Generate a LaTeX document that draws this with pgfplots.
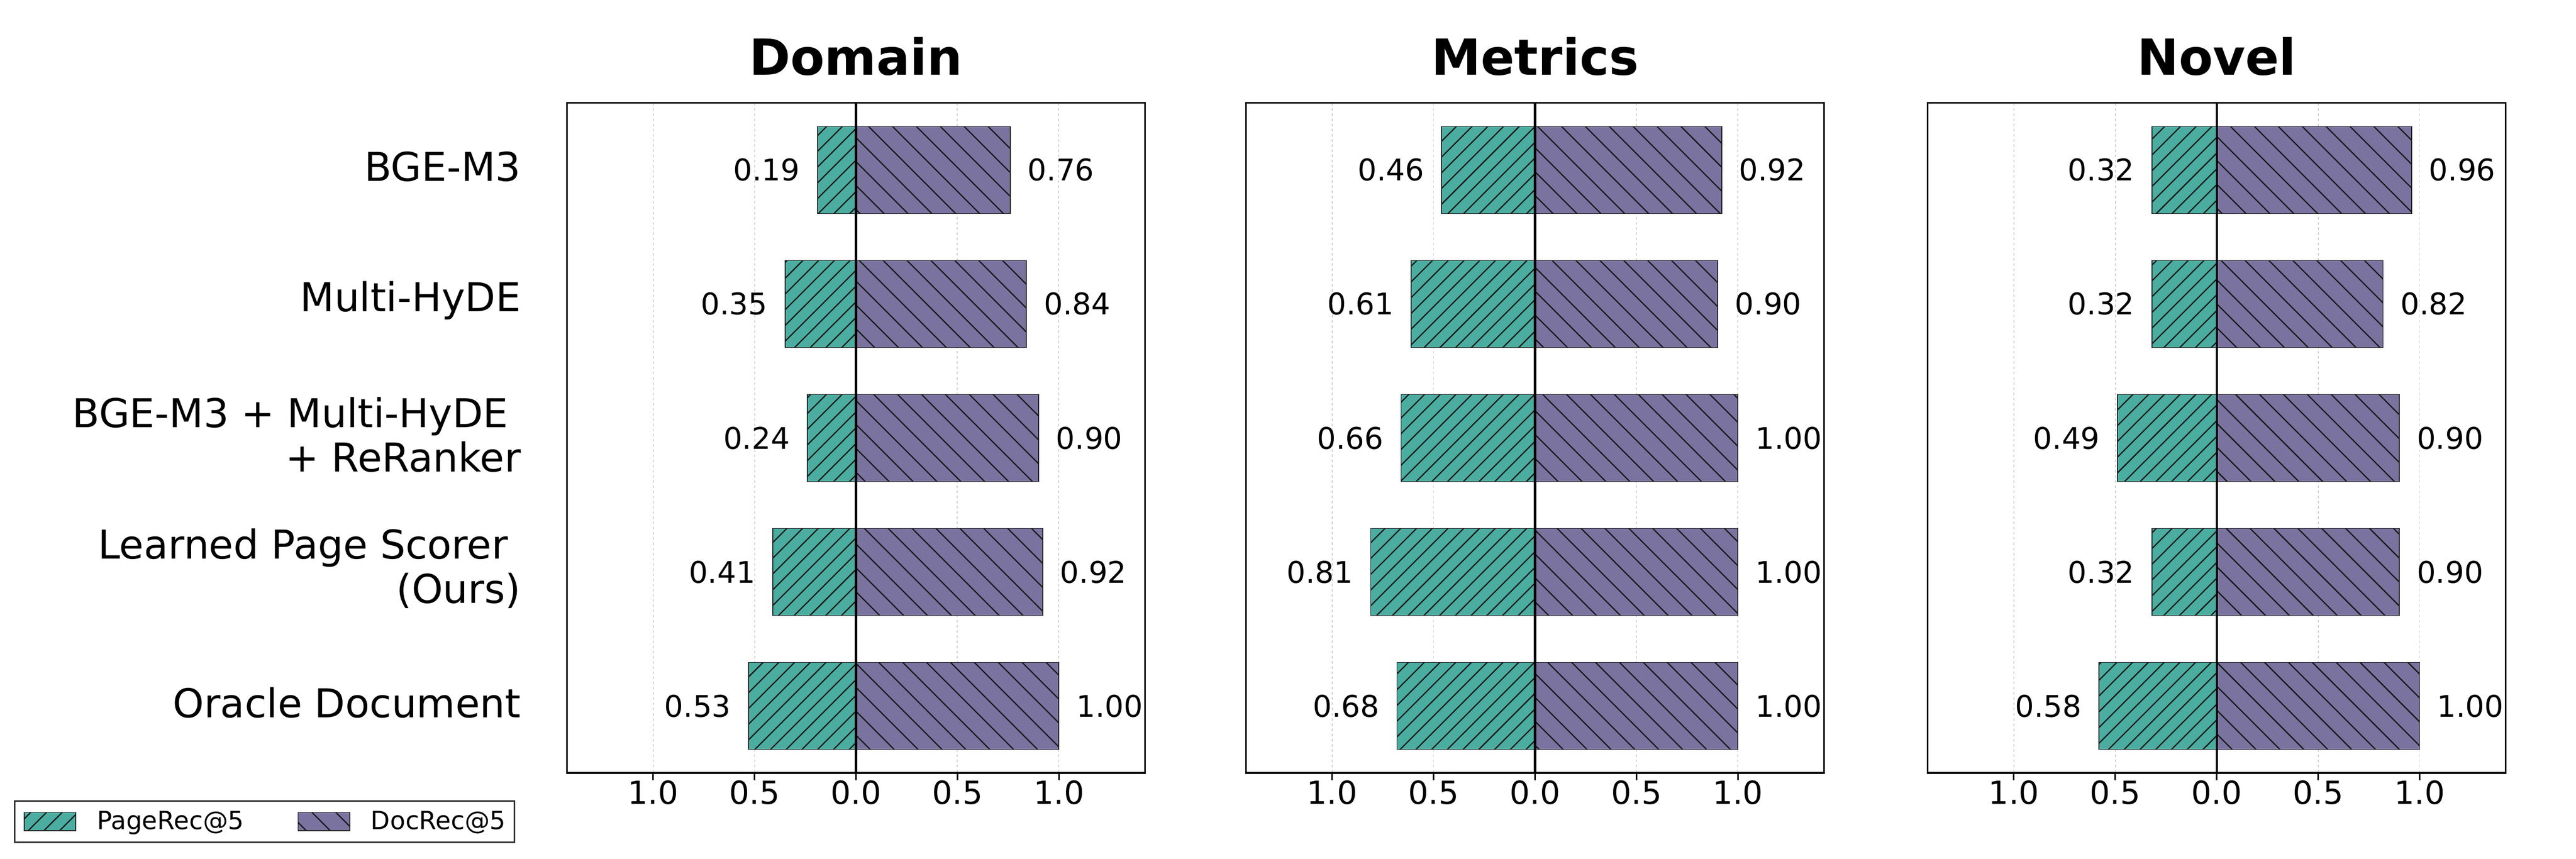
\documentclass[border=0pt]{standalone}
\usepackage{fontspec}
\setmainfont{DejaVu Sans}
\usepackage{pgfplots}
\usepackage{pgfplotstable}
\pgfplotsset{compat=1.18}
\usetikzlibrary{patterns.meta}

\definecolor{pagec}{RGB}{75,172,160}
\definecolor{docc}{RGB}{122,115,160}
\definecolor{edgec}{RGB}{34,34,34}
\definecolor{hatchc}{RGB}{20,24,22}

% y = row index, p = PageRec@5, d = DocRec@5
\pgfplotstableread{
y p d
0 0.19 0.76
1 0.35 0.84
2 0.24 0.90
3 0.41 0.92
4 0.53 1.00
}\domain
\pgfplotstableread{
y p d
0 0.46 0.92
1 0.61 0.90
2 0.66 1.00
3 0.81 1.00
4 0.68 1.00
}\metrics
\pgfplotstableread{
y p d
0 0.32 0.96
1 0.32 0.82
2 0.49 0.90
3 0.32 0.90
4 0.58 1.00
}\novel

\pgfplotsset{
  panel/.style={
    scale only axis, width=290.9pt, height=337pt, anchor=south west,
    xmin=-1.425, xmax=1.425, ymin=-0.5, ymax=4.5, y dir=reverse,
    xbar, bar width=0.65, bar shift=0pt,
    xtick={-1,-0.5,0,0.5,1}, xticklabels={1.0,0.5,0.0,0.5,1.0},
    ytick={0,1,2,3,4}, yticklabels={},
    xtick pos=left, tick align=outside, major tick length=3.6pt,
    xtick style={black, line width=0.8pt},
    ytick style={draw=none},
    axis line style={line width=0.8pt},
    xmajorgrids,
    major grid style={gray!35, line width=0.5pt, dash pattern=on 1.3pt off 1.3pt},
    xticklabel style={font=\fontsize{16}{19}\selectfont, inner sep=0pt, anchor=north},
    /pgf/number format/assume math mode=true,
    every axis title/.style={at={(0.5,1)}, anchor=base, yshift=14.1pt,
      font=\bfseries\fontsize{25}{30}\selectfont},
  },
  valuelbl/.style={
    nodes near coords={\pgfmathprintnumber[fixed,fixed zerofill,precision=2]{\pgfplotspointmeta}},
    point meta=explicit,
  },
  pagebar/.style={valuelbl, fill=pagec, draw=edgec, line width=0.45pt,
    postaction={pattern={Lines[angle=45,distance=5.6pt,line width=0.6pt]}, pattern color=hatchc},
    every node near coord/.append style={anchor=east, xshift=-8.6pt, inner sep=0pt,
      font=\fontsize{15}{18}\selectfont, text=black},
    legend image code/.code={\draw[##1] (0pt,-4.6pt) rectangle (26pt,4.6pt);}},
  docbar/.style={valuelbl, fill=docc, draw=edgec, line width=0.45pt,
    postaction={pattern={Lines[angle=-45,distance=8.5pt,line width=0.6pt]}, pattern color=hatchc},
    every node near coord/.append style={anchor=west, xshift=8.6pt, inner sep=0pt,
      font=\fontsize{15}{18}\selectfont, text=black},
    legend image code/.code={\draw[##1] (0pt,-4.6pt) rectangle (26pt,4.6pt);}},
}

\begin{document}
\begin{tikzpicture}
\useasboundingbox (0,0) rectangle (1296pt,432pt);

\begin{axis}[panel, at={(285.2pt,43.2pt)}, title={Domain},
  yticklabels={BGE-M3, Multi-HyDE, {BGE-M3 + Multi-HyDE\rule{0.32em}{0pt}\\+ ReRanker},
    {Learned Page Scorer\rule{0.32em}{0pt}\\(Ours)}, Oracle Document},
  yticklabel style={font=\fontsize{20}{22.3}\selectfont, align=right, anchor=east,
    inner sep=0pt, xshift=-19.4pt, yshift=1.7pt},
  legend style={at={(-0.9563,-0.04065)}, anchor=north west, legend columns=2,
    draw=black!80, line width=0.8pt, inner xsep=4.5pt, inner ysep=5pt,
    font=\fontsize{12.6}{15}\selectfont, nodes={inner sep=0pt},
    /tikz/every odd column/.append style={column sep=10.4pt},
    /tikz/every even column/.append style={column sep=27pt}},
  legend cell align=left]
\addplot[pagebar] table[x expr=-\thisrow{p}, y=y, meta=p] {\domain};
\addplot[docbar] table[x=d, y=y, meta=d] {\domain};
\draw[black, line width=1.1pt] (axis cs:0,-0.5) -- (axis cs:0,4.5);
\legend{PageRec@5, DocRec@5}
\end{axis}

\begin{axis}[panel, at={(626.8pt,43.2pt)}, title={Metrics}]
\addplot[pagebar] table[x expr=-\thisrow{p}, y=y, meta=p] {\metrics};
\addplot[docbar] table[x=d, y=y, meta=d] {\metrics};
\draw[black, line width=1.1pt] (axis cs:0,-0.5) -- (axis cs:0,4.5);
\end{axis}

\begin{axis}[panel, at={(969.8pt,43.2pt)}, title={Novel}]
\addplot[pagebar] table[x expr=-\thisrow{p}, y=y, meta=p] {\novel};
\addplot[docbar] table[x=d, y=y, meta=d] {\novel};
\draw[black, line width=1.1pt] (axis cs:0,-0.5) -- (axis cs:0,4.5);
\end{axis}
\end{tikzpicture}
\end{document}
